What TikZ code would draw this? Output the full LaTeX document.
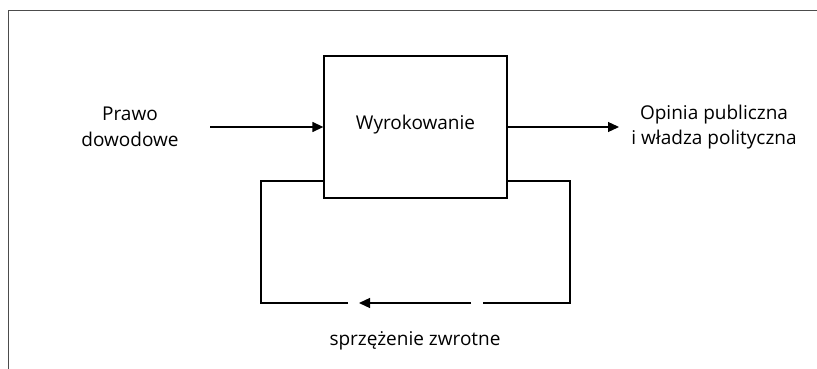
\documentclass[tikz,border=0pt]{standalone}
\usepackage{fontspec}
\setmainfont{Open Sans}
\usetikzlibrary{arrows.meta}
\begin{document}
\begin{tikzpicture}[x=1pt,y=-1pt,
  line/.style={line width=1.3pt,black},
  arr/.style={line, -{Triangle[length=11pt,width=10pt]}},
  lbl/.style={font=\fontsize{19}{25.4}\selectfont, align=center, inner sep=0pt},
  frame/.style={line width=1pt, black!70}]
\useasboundingbox (0,0) rectangle (817,369);
\draw[frame] (8.5,369) -- (8.5,10.5) -- (817,10.5);
\node[draw, line, minimum width=183pt, minimum height=142pt, inner sep=0pt] (box) at (415.5,127) {};
\node[lbl] (wyr) at (415.5,125) {Wyrokowanie};
\node[lbl] (in) at (130,127) {Prawo\\dowodowe};
\node[lbl] (out) at (714,127) {Opinia publiczna\\i władza polityczna};
\node[lbl] (fb) at (415,341) {sprzężenie zwrotne};
\coordinate (a0) at (210,127);
\coordinate (a1) at (619,127);
\coordinate (r1) at (570,181);
\coordinate (r2) at (570,303);
\coordinate (g1) at (483,303);
\coordinate (g2) at (471,303);
\coordinate (g3) at (359,303);
\coordinate (g4) at (348,303);
\coordinate (l1) at (261,303);
\coordinate (l2) at (261,181);
\draw[arr] (a0) -- (box.west);
\draw[arr] (box.east) -- (a1);
\draw[line] (box.east |- r1) -- (r1) -- (r2) -- (g1);
\draw[arr] (g2) -- (g3);
\draw[line] (g4) -- (l1) -- (l2) -- (box.west |- l2);
\end{tikzpicture}
\end{document}
